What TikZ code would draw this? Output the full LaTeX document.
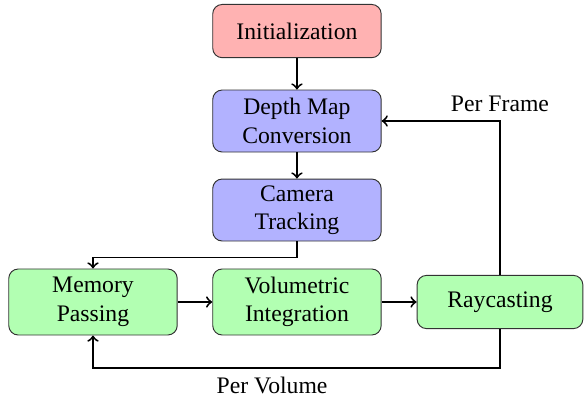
\documentclass[tikz,border=0pt]{standalone}
\usepackage{fontspec}
\setmainfont{Liberation Serif}
\usepackage{tikz}

\begin{document}
\begin{tikzpicture}[
    block/.style={draw=black!80, rounded corners, align=center, minimum width=2.5cm, minimum height=0.79cm, inner ysep=2pt},
    flow/.style={thick, ->}
  ]
      \useasboundingbox (0,0) rectangle (8.667,5.981);

      \node[block, fill=red!30] (init) at (4.407,5.520) {Initialization};
      \node[block, fill=blue!30, minimum height=0.92cm] (depth) at (4.407,4.185) {Depth Map\\Conversion};
      \node[block, fill=blue!30, minimum height=0.92cm] (camera) at (4.407,2.864) {Camera\\Tracking};
      \node[block, fill=green!30, minimum height=0.98cm] (memory) at (1.380,1.499) {Memory\\Passing};
      \node[block, fill=green!30, minimum height=0.98cm] (volume) at (4.407,1.499) {Volumetric\\Integration};
      \node[block, fill=green!30, minimum width=2.46cm] (ray) at (7.420,1.499) {Raycasting};

      \foreach \a/\b in {init/depth, depth/camera, memory/volume, volume/ray}{
      \draw[flow] (\a) -- (\b);
      }
      \draw[flow] (camera.south) -- ++(0,-0.237) -| (memory.north);
      \draw[flow] (ray.north) |- node[pos=0.5, above] {Per Frame} (depth.east);
      \draw[flow] (ray.south) -- ++(0,-0.58) -| node[pos=0.28, below] {Per Volume} (memory.south);
  \end{tikzpicture}
\end{document}
